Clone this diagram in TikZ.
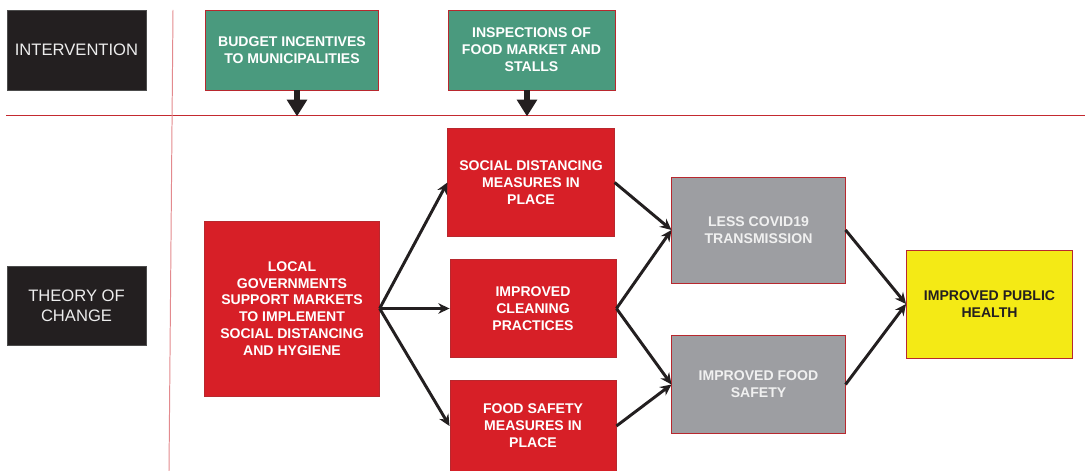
\documentclass[tikz,border=0pt]{standalone}
\usepackage{fontspec}
\setmainfont{Liberation Sans}
\usetikzlibrary{arrows.meta}

\definecolor{labeldark}{HTML}{231F20}
\definecolor{stepgreen}{HTML}{4A9A7E}
\definecolor{stepred}{HTML}{D71F27}
\definecolor{stepgray}{HTML}{9D9EA2}
\definecolor{stepyellow}{HTML}{F4EA15}
\definecolor{edgered}{HTML}{B8282E}
\definecolor{rulered}{HTML}{C42A30}
\definecolor{palered}{HTML}{E38A8E}

\tikzset{
  rowlabel/.style={fill=labeldark, draw=gray!60!black, line width=0.5pt, text=white!93!black,
    align=center, inner sep=0pt, font=\fontsize{11.8}{14}\selectfont},
  stepbox/.style={draw=edgered, line width=0.6pt, text=white, align=center, inner sep=0pt,
    font=\fontsize{10}{12}\selectfont\bfseries},
  link/.style={draw=labeldark, line width=2.1pt, -{Stealth[length=8pt,width=7.5pt]}},
  drop/.style={draw=labeldark, line width=4.5pt, -{Triangle[length=12pt,width=14pt]}},
}

\begin{document}
\begin{tikzpicture}[x=0.025cm, y=-0.025cm]

\useasboundingbox (0,0) rectangle (1085,471);

% the two rules splitting the rows and the label column
\draw[rulered, line width=0.7pt] (6,115) -- (1085,115);
\draw[palered, line width=0.7pt] (173,10) -- (169,471);

% row labels
\node[rowlabel, minimum width=3.475cm, minimum height=2cm] (intervention) at (76.5,50) {INTERVENTION};
\node[rowlabel, minimum width=3.475cm, minimum height=1.98cm] (toc) at (76.5,306) {THEORY OF\\CHANGE};

% interventions
\node[stepbox, fill=stepgreen, minimum width=4.33cm, minimum height=2cm] (budget) at (292,50)
  {BUDGET INCENTIVES\\TO MUNICIPALITIES};
\node[stepbox, fill=stepgreen, minimum width=4.17cm, minimum height=2cm] (inspect) at (531.5,50)
  {INSPECTIONS OF\\FOOD MARKET AND\\STALLS};

% where the fat arrows land on the rule
\coordinate (budgetdrop) at (297,115);
\coordinate (inspectdrop) at (527,115);
\draw[drop, shorten >=-1pt] (budget.south -| budgetdrop) -- (budgetdrop);
\draw[drop, shorten >=-1pt] (inspect.south -| inspectdrop) -- (inspectdrop);

% the chain of change
\node[stepbox, fill=stepred, minimum width=4.36cm, minimum height=4.375cm] (local) at (292,308.5)
  {LOCAL\\GOVERNMENTS\\SUPPORT MARKETS\\TO IMPLEMENT\\SOCIAL DISTANCING\\AND HYGIENE};

\node[stepbox, fill=stepred, minimum width=4.16cm, minimum height=2.72cm] (distancing) at (531,182.5)
  {SOCIAL DISTANCING\\MEASURES IN\\PLACE};
\node[stepbox, fill=stepred, minimum width=4.15cm, minimum height=2.47cm] (cleaning) at (533,308.5)
  {IMPROVED\\CLEANING\\PRACTICES};
\node[stepbox, fill=stepred, minimum width=4.15cm, minimum height=2.3cm] (foodmeasures) at (533,426)
  {FOOD SAFETY\\MEASURES IN\\PLACE};

\node[stepbox, fill=stepgray, text=white!94!black, minimum width=4.33cm, minimum height=2.65cm] (covid) at (758.5,230)
  {LESS COVID19\\TRANSMISSION};
\node[stepbox, fill=stepgray, text=white!94!black, minimum width=4.33cm, minimum height=2.45cm] (foodsafety) at (758.5,384.5)
  {IMPROVED FOOD\\SAFETY};
\node[stepbox, fill=stepyellow, text=labeldark, minimum width=4.15cm, minimum height=2.7cm] (health) at (989.5,304)
  {IMPROVED PUBLIC\\HEALTH};

% arrows
\draw[link] (local.east) -- (distancing.west);
\draw[link] (local.east) -- (cleaning.west);
\draw[link] (local.east) -- (foodmeasures.west);
\draw[link] (distancing.east) -- (covid.west);
\draw[link] (cleaning.east) -- (covid.west);
\draw[link] (cleaning.east) -- (foodsafety.west);
\draw[link] (foodmeasures.east) -- (foodsafety.west);
\draw[link] (covid.east) -- (health.west);
\draw[link] (foodsafety.east) -- (health.west);

\end{tikzpicture}
\end{document}
